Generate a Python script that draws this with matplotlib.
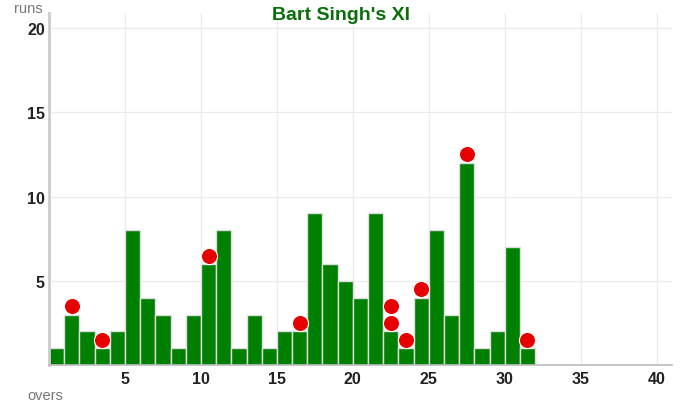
import numpy as np
import matplotlib.pyplot as plt

plt.rcParams['font.family'] = ['Liberation Sans', 'DejaVu Sans']

overs = np.arange(1, 33)
runs = [1, 3, 2, 1, 2, 8, 4, 3, 1, 3, 6, 8, 1, 3, 1, 2,
        2, 9, 6, 5, 4, 9, 2, 1, 4, 8, 3, 12, 1, 2, 7, 1]
wicket_overs = [2, 4, 11, 17, 23, 23, 24, 25, 28, 32]

fig = plt.figure(figsize=(6.82, 4.10), dpi=100)
ax = fig.add_axes([0.072, 0.107, 0.913, 0.859])

ax.bar(overs - 0.5, runs, width=1.0, color='#008000', edgecolor='#dddddd',
       linewidth=1.0, zorder=2)

# wicket dots stacked above the bar
wx, wy = [], []
seen = {}
for o in wicket_overs:
    k = seen.get(o, 0)
    seen[o] = k + 1
    wx.append(o - 0.5)
    wy.append(runs[o - 1] + 0.5 + k)
ax.scatter(wx, wy, s=135, color='#e60000', edgecolor='white', linewidth=0.8,
           zorder=3)

ax.set_xlim(0, 41)
ax.set_ylim(0, 20.9)
ax.set_xticks([5, 10, 15, 20, 25, 30, 35, 40])
ax.set_yticks([5, 10, 15, 20])
ax.grid(True, color='#ebebeb', linewidth=0.9, zorder=0)
ax.set_axisbelow(True)
for s in ['top', 'right']:
    ax.spines[s].set_visible(False)
ax.spines['left'].set_color('#cccccc')
ax.spines['left'].set_linewidth(2)
ax.spines['bottom'].set_color('#bbbbbb')
ax.spines['bottom'].set_linewidth(1.2)
ax.tick_params(length=0, labelsize=11.5, colors='#222222')
ax.tick_params(axis='x', pad=4)
ax.tick_params(axis='y', pad=3)
for lab in ax.get_xticklabels() + ax.get_yticklabels():
    lab.set_fontweight('bold')

fig.text(0.5, 0.963, "Bart Singh's XI", ha='center', va='center',
         fontsize=14, fontweight='bold', color='#0a6e0a')
fig.text(0.02, 0.978, 'runs', ha='left', va='center', fontsize=10.5, color='#777777')
fig.text(0.04, 0.035, 'overs', ha='left', va='center', fontsize=10.5, color='#777777')

fig.savefig('out.png', dpi=100)
